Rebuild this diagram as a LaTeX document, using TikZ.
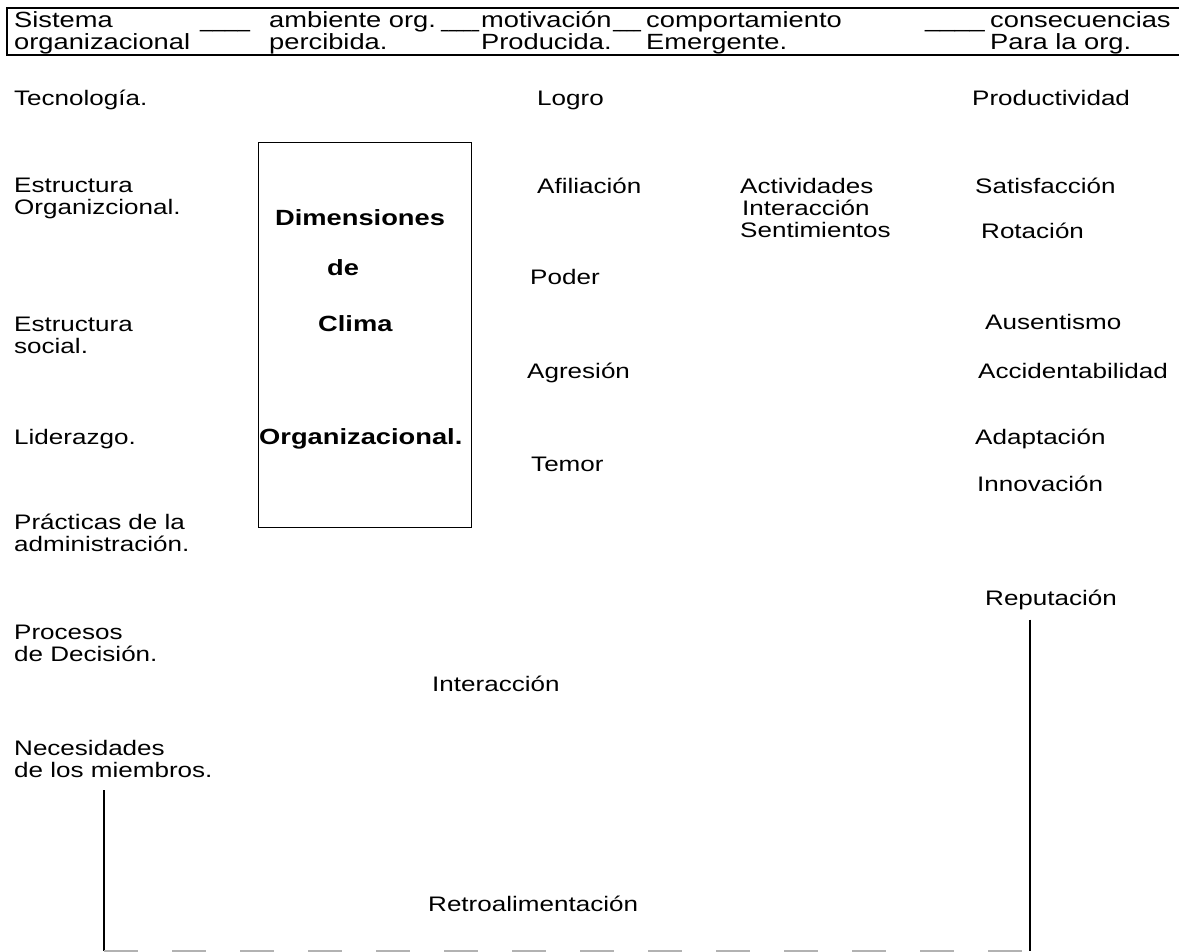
\documentclass[tikz,border=0pt]{standalone}
\usepackage{fontspec}
\usepackage{graphicx}
\setmainfont[FakeStretch=1.24]{Liberation Sans}
\usetikzlibrary{positioning}
\newcommand{\fs}{\fontsize{21}{22}\selectfont}
\newcommand{\hfs}{\fontsize{22}{22}\selectfont}
\newcommand{\bfs}{\fontsize{22}{24}\selectfont\bfseries}
\newcommand{\blank}[2]{\scalebox{#1}[1]{#2}}
\tikzset{
  lbl/.style={anchor=base west,inner sep=0pt,align=left,font=\fs},
  hlbl/.style={lbl,font=\hfs},
  blbl/.style={lbl,font=\bfs},
  frame/.style={draw=black,line width=1.2pt},
  link/.style={draw=black,line width=2pt},
  back/.style={draw=black!30,line width=2.5pt,dash pattern=on 34pt off 34pt},
}
\begin{document}
\begin{tikzpicture}[x=1pt,y=-1pt]
\useasboundingbox (0,0) rectangle (1179,952);
\draw[frame] (1179,8) -- (7,8) -- (7,55) -- (1179,55);
\node[hlbl] (hsis) at (14,50) {Sistema\\organizacional};
\node[hlbl] (hl1) at (200,28) {\blank{0.82}{\_\_\_\_}};
\node[hlbl] (hamb) at (269,50) {ambiente org.\\percibida.};
\node[hlbl] (hl2) at (441,28) {\blank{0.5}{\_\_\_\_\_}};
\node[hlbl] (hmot) at (481,50) {motivación\\Producida.};
\node[hlbl] (hl3) at (613,28) {\blank{0.46}{\_\_\_\_}};
\node[hlbl] (hcom) at (646,50) {comportamiento\\Emergente.};
\node[hlbl] (hl4) at (925,28) {\blank{0.98}{\_\_\_\_}};
\node[hlbl] (hcon) at (990,50) {consecuencias\\Para la org.};

\node[lbl] (tec) at (14,106) {Tecnología.};
\node[lbl] (estorg) at (14,215) {Estructura\\Organizcional.};
\node[lbl] (estsoc) at (14,353) {Estructura\\social.};
\node[lbl] (lid) at (14,444) {Liderazgo.};
\node[lbl] (prac) at (14,551) {Prácticas de la\\administración.};
\node[lbl] (proc) at (14,661) {Procesos\\de Decisión.};
\node[lbl] (nec) at (14,777) {Necesidades\\de los miembros.};

\node[frame,anchor=north west,minimum width=213pt,minimum height=385pt] (clima) at (258,142) {};
\node[blbl] (dim) at (275,226) {Dimensiones};
\node[blbl] (de) at (327,276) {de};
\node[blbl] (cli) at (318,331) {Clima};
\node[blbl] (org) at (259,444) {Organizacional.};

\node[lbl] (logro) at (537,106) {Logro};
\node[lbl] (afil) at (537,194) {Afiliación};
\node[lbl] (poder) at (530,285) {Poder};
\node[lbl] (agre) at (527,378) {Agresión};
\node[lbl] (temor) at (531,471) {Temor};

\node[lbl] (act) at (740,238) {Actividades\\\hspace{2pt}Interacción\\Sentimientos};

\node[lbl] (prod) at (972,106) {Productividad};
\node[lbl] (sat) at (975,194) {Satisfacción};
\node[lbl] (rot) at (981,239) {Rotación};
\node[lbl] (aus) at (985,330) {Ausentismo};
\node[lbl] (acc) at (978,378) {Accidentabilidad};
\node[lbl] (adap) at (975,444) {Adaptación};
\node[lbl] (inno) at (977,491) {Innovación};
\node[lbl] (rep) at (985,605) {Reputación};

\node[lbl] (inter) at (432,691) {Interacción};
\node[lbl] (retro) at (428,911) {Retroalimentación};

\coordinate (fbL) at (104,951);
\coordinate (fbR) at (1030,951);
\draw[link] ([yshift=-13pt]nec.south -| fbL) -- (fbL);
\draw[link] ([yshift=-10pt]rep.south -| fbR) -- (fbR);
\draw[back] (fbL) -- (fbR);
\end{tikzpicture}
\end{document}
